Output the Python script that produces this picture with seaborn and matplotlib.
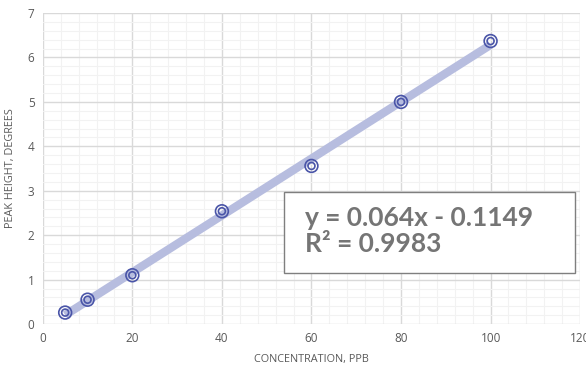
import matplotlib
matplotlib.use("Agg")
import matplotlib.pyplot as plt
import seaborn as sns
import numpy as np
import pandas as pd
from matplotlib.ticker import MultipleLocator

concentration = [5, 10, 20, 40, 60, 80, 100]
peak_height = [0.26, 0.55, 1.10, 2.54, 3.56, 5.00, 6.37]
slope = 0.064
intercept = -0.1149
r2 = 0.9983

df = pd.DataFrame({"x": concentration, "y": peak_height})
trend = pd.DataFrame({"x": [min(concentration), max(concentration)]})
trend["y"] = slope * trend["x"] + intercept

sns.set_style("white")
plt.rcParams["font.family"] = ["Open Sans", "DejaVu Sans"]

fig = plt.figure(figsize=(5.86, 3.73), dpi=100)
ax = fig.add_axes([0.073, 0.131, 0.917, 0.834])

ax.xaxis.set_major_locator(MultipleLocator(20))
ax.xaxis.set_minor_locator(MultipleLocator(4))
ax.yaxis.set_major_locator(MultipleLocator(1))
ax.yaxis.set_minor_locator(MultipleLocator(0.2))
ax.grid(which="major", color="#d9d9d9", linewidth=1.0)
ax.grid(which="minor", color="#f2f2f2", linewidth=0.8)
ax.set_axisbelow(True)

sns.lineplot(data=trend, x="x", y="y", ax=ax, color="#b7bddf", linewidth=6,
             solid_capstyle="butt", zorder=2)
sns.scatterplot(data=df, x="x", y="y", ax=ax, s=85, facecolor="none",
                edgecolor="#4a55a8", linewidth=1.2, zorder=3)
sns.scatterplot(data=df, x="x", y="y", ax=ax, s=25, facecolor="none",
                edgecolor="#4a55a8", linewidth=1.2, zorder=4)

ax.set_xlim(0, 120)
ax.set_ylim(0, 7)
for s in ax.spines.values():
    s.set_visible(False)
ax.tick_params(which="both", length=0, labelsize=8.5, colors="#595959", pad=6)
ax.set_xlabel("CONCENTRATION, PPB", fontsize=7.8, color="#595959", labelpad=6)
ax.set_ylabel("PEAK HEIGHT, DEGREES", fontsize=7.8, color="#595959", labelpad=8)

ax.add_patch(plt.Rectangle((0.4495, 0.164), 0.5417, 0.262, transform=ax.transAxes,
                           facecolor="white", edgecolor="#7f7f7f", linewidth=1.0,
                           zorder=4.5))
ax.text(0.488, 0.298, f"y = {slope}x - {abs(intercept)}\nR² = {r2}",
        transform=ax.transAxes, fontsize=19, fontweight="bold",
        color="#757575", family=["Lato", "DejaVu Sans"], va="center", ha="left",
        linespacing=1.1, zorder=5)

fig.savefig("out.png", dpi=100)
